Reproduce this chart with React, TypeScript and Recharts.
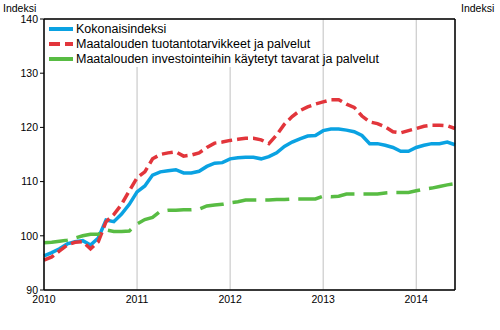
import { LineChart, Line, XAxis, YAxis, CartesianGrid, ReferenceLine } from 'recharts';

// Monthly values, Jan 2010 .. Jun 2014
const kokonaisindeksi = [
  96.3, 96.9, 97.6, 98.5, 98.9, 99.1, 98.3, 99.6, 102.9, 102.6, 104.0, 105.8,
  108.1, 109.2, 111.2, 111.8, 112.0, 112.2, 111.6, 111.6, 111.9, 112.8, 113.4, 113.5,
  114.2, 114.4, 114.5, 114.5, 114.2, 114.6, 115.3, 116.5, 117.3, 117.9, 118.4, 118.5,
  119.4, 119.7, 119.7, 119.5, 119.2, 118.5, 117.0, 117.0, 116.7, 116.3, 115.6, 115.6,
  116.3, 116.7, 117.0, 117.0, 117.3, 116.8,
];

const tuotantotarvikkeet = [
  95.5, 96.1, 97.2, 98.3, 98.8, 98.9, 97.6, 98.9, 102.6, 103.9, 105.8, 108.3,
  110.7, 111.8, 114.2, 115.0, 115.3, 115.5, 114.7, 114.9, 115.3, 116.3, 117.1, 117.3,
  117.6, 117.8, 118.0, 118.0, 117.7, 117.0, 118.6, 120.6, 122.0, 123.1, 123.8, 124.3,
  124.7, 125.1, 125.1, 124.3, 123.7, 122.1, 121.0, 120.7, 120.1, 119.2, 119.0, 119.4,
  119.8, 120.2, 120.4, 120.4, 120.3, 119.8,
];

const investoinnit = [
  98.7, 98.8, 99.0, 99.2, 99.6, 100.0, 100.3, 100.3, 101.1, 100.8, 100.8, 100.9,
  102.2, 103.0, 103.4, 104.5, 104.7, 104.7, 104.8, 104.8, 104.9, 105.5, 105.7, 105.8,
  106.1, 106.3, 106.6, 106.6, 106.6, 106.6, 106.7, 106.7, 106.8, 106.8, 106.8, 106.8,
  107.3, 107.2, 107.3, 107.7, 107.7, 107.7, 107.7, 107.7, 107.9, 108.0, 108.0, 108.0,
  108.3, 108.6, 108.8, 109.1, 109.4, 109.6,
];

const yearLabels = ['2010', '2011', '2012', '2013', '2014'];
const yearTicks = [0, 12, 24, 36, 48];
const yTicks = [90, 100, 110, 120, 130, 140];

const seriesNames = [
  'Kokonaisindeksi',
  'Maatalouden tuotantotarvikkeet ja palvelut',
  'Maatalouden investointeihin käytetyt tavarat ja palvelut',
];

const data = kokonaisindeksi.map((v, i) => ({
  m: i,
  koko: v,
  tuot: tuotantotarvikkeet[i],
  inv: investoinnit[i],
}));

const FONT = 'Arial, "Liberation Sans", sans-serif';
const BLUE = '#0aa2e2';
const RED = '#e2353b';
const GREEN = '#58bc43';

const series = [
  { key: 'koko', name: seriesNames[0], color: BLUE, dash: undefined },
  { key: 'tuot', name: seriesNames[1], color: RED, dash: '11 5' },
  { key: 'inv', name: seriesNames[2], color: GREEN, dash: '24 9' },
];

function App() {
  return (
    <div style={{ position: 'absolute', left: 0, top: 0, width: 500, height: 330, background: '#fff' }}>
      <LineChart width={500} height={330} data={data} margin={{ top: 19, right: 0, left: 0, bottom: 20 }}>
        <CartesianGrid stroke="#c0c0c0" strokeWidth={1} />
        <XAxis
          dataKey="m"
          type="number"
          domain={[0, 53]}
          ticks={yearTicks}
          tickFormatter={(v) => yearLabels[yearTicks.indexOf(v)]}
          axisLine={{ stroke: '#000', strokeWidth: 1.5 }}
          tickLine={false}
          tickSize={0}
          tickMargin={6}
          height={20}
          tick={{ fill: '#000', fontSize: 10.5, fontFamily: FONT }}
        />
        <YAxis
          yAxisId="l"
          domain={[90, 140]}
          ticks={yTicks}
          width={44}
          axisLine={{ stroke: '#000', strokeWidth: 1.5 }}
          tickLine={{ stroke: '#000' }}
          tickSize={4}
          tickMargin={2}
          tick={{ fill: '#000', fontSize: 10.5, fontFamily: FONT }}
        />
        <YAxis
          yAxisId="r"
          orientation="right"
          domain={[90, 140]}
          ticks={yTicks}
          width={45}
          axisLine={{ stroke: '#000', strokeWidth: 1.5 }}
          tickLine={{ stroke: '#000' }}
          tickSize={3}
          tickMargin={2}
          tick={{ fill: '#000', fontSize: 10.5, fontFamily: FONT, textAnchor: 'start' }}
        />
        <ReferenceLine yAxisId="l" y={140} stroke="#000" strokeWidth={1.5} />
        {series.map((s) => (
          <Line
            key={s.key}
            yAxisId="l"
            name={s.name}
            dataKey={s.key}
            stroke={s.color}
            strokeWidth={3.5}
            strokeDasharray={s.dash}
            dot={false}
            type="linear"
            isAnimationActive={false}
          />
        ))}
      </LineChart>
      <div style={{ position: 'absolute', left: 3, top: 2, fontFamily: FONT, fontSize: 10.5 }}>Indeksi</div>
      <div style={{ position: 'absolute', left: 461, top: 2, fontFamily: FONT, fontSize: 10.5 }}>Indeksi</div>
      <div style={{ position: 'absolute', left: 46, top: 20, width: 254, height: 47, background: '#fff' }} />
      <div
        style={{
          position: 'absolute',
          left: 49,
          top: 21,
          fontFamily: FONT,
          fontSize: 12.5,
          color: '#000',
        }}
      >
        {series.map((s) => (
          <div key={s.key} style={{ display: 'flex', alignItems: 'center', height: 15 }}>
            <svg width={24} height={6} style={{ marginRight: 3 }}>
              <line x1={0} y1={3} x2={24} y2={3} stroke={s.color} strokeWidth={4} strokeDasharray={s.dash} />
            </svg>
            <span style={{ whiteSpace: 'nowrap' }}>{s.name}</span>
          </div>
        ))}
      </div>
    </div>
  );
}

export default App;
